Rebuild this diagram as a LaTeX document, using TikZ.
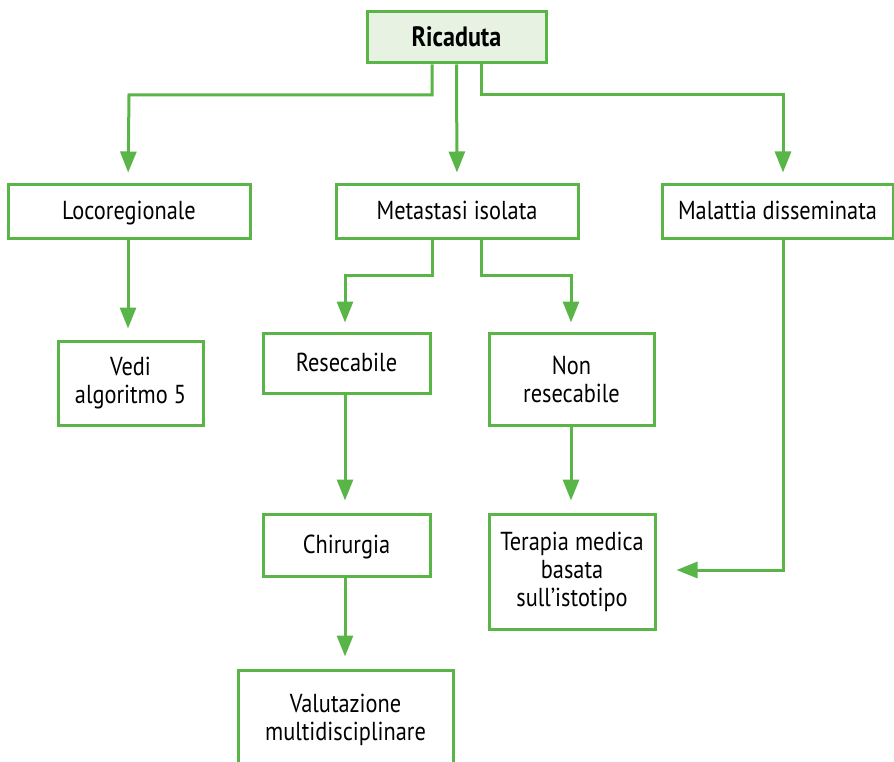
\documentclass[tikz,border=0pt]{standalone}
\usepackage{fontspec}
\setmainfont[FakeStretch=0.86]{PT Sans}
\usetikzlibrary{arrows.meta}
\definecolor{flowgreen}{HTML}{5AB548}
\definecolor{headfill}{HTML}{E7F2E3}
\begin{document}
\begin{tikzpicture}[x=1pt,y=-1pt,
  box/.style={draw=flowgreen,line width=3pt,fill=white,align=center,
    inner sep=0pt,font=\fontsize{26}{28}\selectfont},
  single/.style={text depth=2pt},
  arr/.style={draw=flowgreen,line width=3pt,
    -{Triangle[length=21pt,width=16pt]}}]
\useasboundingbox (0,0) rectangle (894,762);
% boxes
\node[box,single,fill=headfill,minimum width=179pt,minimum height=51pt,font=\fontsize{28}{30}\selectfont\bfseries] (ric) at (456.5,37.5) {Ricaduta};
\node[box,single,minimum width=242pt,minimum height=53pt] (loco) at (129,211.5) {Locoregionale};
\node[box,single,minimum width=242pt,minimum height=53pt] (meta) at (457,211.5) {Metastasi isolata};
\node[box,single,minimum width=231pt,minimum height=53pt] (mal) at (777.5,211.5) {Malattia disseminata};
\node[box,minimum width=145pt,minimum height=84pt] (vedi) at (130.5,383) {Vedi\\algoritmo 5};
\node[box,single,minimum width=167pt,minimum height=60pt] (res) at (346.5,363) {Resecabile};
\node[box,minimum width=165pt,minimum height=92pt] (nonres) at (571.5,379) {Non\\resecabile};
\node[box,single,minimum width=167pt,minimum height=62pt] (chir) at (346.5,545) {Chirurgia};
\node[box,minimum width=166pt,minimum height=115pt] (ter) at (572,571.5) {Terapia medica\\basata\\sull’istotipo};
\node[box,minimum width=215pt,minimum height=100pt] (val) at (345.5,720) {Valutazione\\multidisciplinare};
% connectors from the top box
\coordinate (split1) at (0,95);
\coordinate (split2) at (0,275);
\draw[arr,shorten >=11pt] ([xshift=-24.5pt]ric.south) |- (split1 -| loco.north) -- ([xshift=-1pt]loco.north);
\draw[arr,shorten >=11pt] (ric.south) -- (meta.north);
\draw[arr,shorten >=11pt] ([xshift=24.5pt]ric.south) |- ([xshift=5.5pt]split1 -| mal.north) -- ([xshift=5.5pt]mal.north);
% second level
\draw[arr,shorten >=11pt] ([xshift=-1pt]loco.south) -- ([xshift=-1pt]loco.south |- vedi.north);
\draw[arr,shorten >=9pt] ([xshift=-25pt]meta.south) |- ([xshift=-1.5pt]split2 -| res.north) -- ([xshift=-1.5pt]res.north);
\draw[arr,shorten >=9pt] ([xshift=24pt]meta.south) |- ([xshift=-0.5pt]split2 -| nonres.north) -- ([xshift=-0.5pt]nonres.north);
% third level
\draw[arr,shorten >=12pt] ([xshift=-1.5pt]res.south) -- ([xshift=-1.5pt]chir.north);
\draw[arr,shorten >=12pt] ([xshift=-0.5pt]nonres.south) -- ([xshift=-1pt]ter.north);
\draw[arr,shorten >=20pt] ([xshift=5.5pt]mal.south) |- (ter.east |- 0,570);
\draw[arr,shorten >=12pt] ([xshift=-1.5pt]chir.south) -- ([xshift=-0.5pt]val.north);
\end{tikzpicture}
\end{document}
